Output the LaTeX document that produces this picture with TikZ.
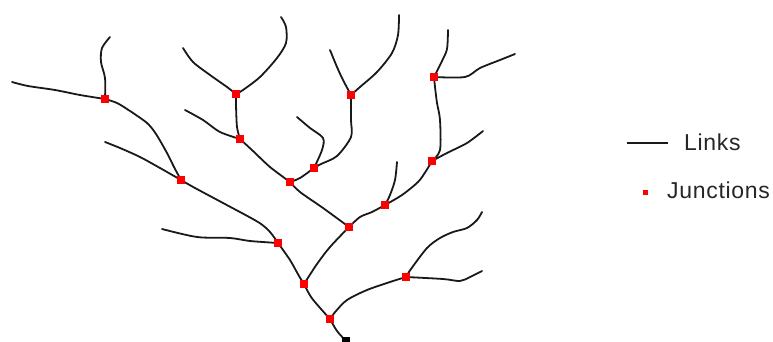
\documentclass[tikz,border=0pt]{standalone}
\usepackage{fontspec}
\setmainfont{Liberation Sans}
\newfontfamily\legfont[LetterSpace=3]{Liberation Sans}
\begin{document}
\begin{tikzpicture}[x=1pt,y=-1pt,
  link/.style={line width=1.8pt,black!90,line cap=round,line join=round},
  junc/.style={fill=red,draw=none,minimum size=7.5pt,inner sep=0pt,outer sep=0pt,rectangle},
  legjunc/.style={fill=red,draw=none,minimum size=5pt,inner sep=0pt,rectangle},
  outletbox/.style={fill=black,draw=none,minimum size=8pt,inner sep=0pt,rectangle},
  legtext/.style={anchor=base west,inner sep=0pt,font=\legfont\fontsize{23}{27}\selectfont,text=black!85}]
\useasboundingbox (0,0) rectangle (773,342);
% junctions
\coordinate (j1) at (105,99);
\coordinate (j2) at (181,180);
\coordinate (j3) at (236,94);
\coordinate (j4) at (240,139);
\coordinate (j5) at (290,182);
\coordinate (j6) at (314,168);
\coordinate (j7) at (351,95);
\coordinate (j8) at (434,77);
\coordinate (j9) at (432,161);
\coordinate (j10) at (385,205);
\coordinate (j11) at (349,227);
\coordinate (j12) at (278,243);
\coordinate (j13) at (304,284);
\coordinate (j14) at (330,319);
\coordinate (j15) at (406,277);
\coordinate (out) at (346,341);
% free ends
\coordinate (e1) at (12,82);
\coordinate (e2) at (110,37);
\coordinate (e3) at (105,142);
\coordinate (e4) at (162,229);
\coordinate (e5) at (183,48);
\coordinate (e6) at (281,17);
\coordinate (e7) at (185,110);
\coordinate (e8) at (297,117);
\coordinate (e9) at (330,50);
\coordinate (e10) at (399,15);
\coordinate (e11) at (448,30);
\coordinate (e12) at (515,54);
\coordinate (e13) at (483,131);
\coordinate (e14) at (397,162);
\coordinate (e15) at (482,212);
\coordinate (e16) at (482,271);
% links
\begin{scope}[link]
\draw plot[smooth,tension=0.5] coordinates {(e1) (28,86) (55,90) (80,95) (j1)};
\draw plot[smooth,tension=0.5] coordinates {(j1) (105,78) (101,62) (102,48) (e2)};
\draw plot[smooth,tension=0.5] coordinates {(j1) (117,103) (130,111) (147,123) (156,134) (167,153) (174,167) (j2)};
\draw plot[smooth,tension=0.5] coordinates {(e3) (120,148) (140,157) (160,168) (j2)};
\draw plot[smooth,tension=0.5] coordinates {(j2) (195,188) (223,203) (258,222) (270,232) (j12)};
\draw plot[smooth,tension=0.5] coordinates {(e4) (197,237) (230,238) (250,241) (j12)};
\draw plot[smooth,tension=0.5] coordinates {(j12) (290,260) (299,276) (j13)};
\draw plot[smooth,tension=0.5] coordinates {(j13) (311,297) (321,309) (j14)};
\draw plot[smooth,tension=0.5] coordinates {(j14) (337,331) (out)};
\draw plot[smooth,tension=0.5] coordinates {(j11) (330,247) (317,264) (j13)};
\draw plot[smooth,tension=0.5] coordinates {(j14) (336,311) (347,300) (367,290) (390,282) (j15)};
\draw plot[smooth,tension=0.5] coordinates {(j15) (411,269) (427,248) (440,238) (453,232) (467,228) (477,220) (e15)};
\draw plot[smooth,tension=0.5] coordinates {(j15) (443,279) (460,281) (470,277) (e16)};
\draw plot[smooth,tension=0.5] coordinates {(j11) (323,208) (300,192) (j5)};
\draw plot[smooth,tension=0.5] coordinates {(j11) (360,217) (372,212) (j10)};
\draw plot[smooth,tension=0.5] coordinates {(j10) (390,195) (395,180) (e14)};
\draw plot[smooth,tension=0.5] coordinates {(j10) (402,195) (418,182) (426,171) (j9)};
\draw plot[smooth,tension=0.5] coordinates {(j9) (447,153) (467,143) (e13)};
\draw plot[smooth,tension=0.5] coordinates {(j9) (440,150) (440,120) (437,103) (435,87) (j8)};
\draw plot[smooth,tension=0.5] coordinates {(j8) (442,61) (447,49) (e11)};
\draw plot[smooth,tension=0.5] coordinates {(j8) (465,77) (480,68) (500,60) (e12)};
\draw plot[smooth,tension=0.5] coordinates {(j7) (343,80) (337,67) (e9)};
\draw plot[smooth,tension=0.5] coordinates {(j7) (360,87) (377,72) (392,53) (398,35) (e10)};
\draw plot[smooth,tension=0.5] coordinates {(j7) (351,120) (351,137) (337,156) (321,164) (j6)};
\draw plot[smooth,tension=0.5] coordinates {(j6) (322,150) (323,138) (310,128) (e8)};
\draw plot[smooth,tension=0.5] coordinates {(j6) (300,178) (j5)};
\draw plot[smooth,tension=0.5] coordinates {(j5) (270,167) (253,151) (j4)};
\draw plot[smooth,tension=0.5] coordinates {(j4) (220,132) (203,120) (e7)};
\draw plot[smooth,tension=0.5] coordinates {(j4) (237,127) (236,105) (j3)};
\draw plot[smooth,tension=0.5] coordinates {(j3) (227,87) (210,75) (193,62) (e5)};
\draw plot[smooth,tension=0.5] coordinates {(j3) (243,90) (260,77) (277,58) (286,43) (286,27) (e6)};
\end{scope}
% junction markers
\foreach \k in {1,...,15}{\node[junc] (J\k) at (j\k) {};}
\node[outletbox] (outlet) at (out) {};
% legend
\coordinate (la) at (627,143);
\coordinate (lb) at (668,143);
\draw[link,line cap=butt] (la) -- (lb);
\node[legtext] (linkstxt) at (684,150) {Links};
\node[legjunc] (legJ) at (645,192) {};
\node[legtext] (junctxt) at (667,198) {Junctions};
\end{tikzpicture}
\end{document}
